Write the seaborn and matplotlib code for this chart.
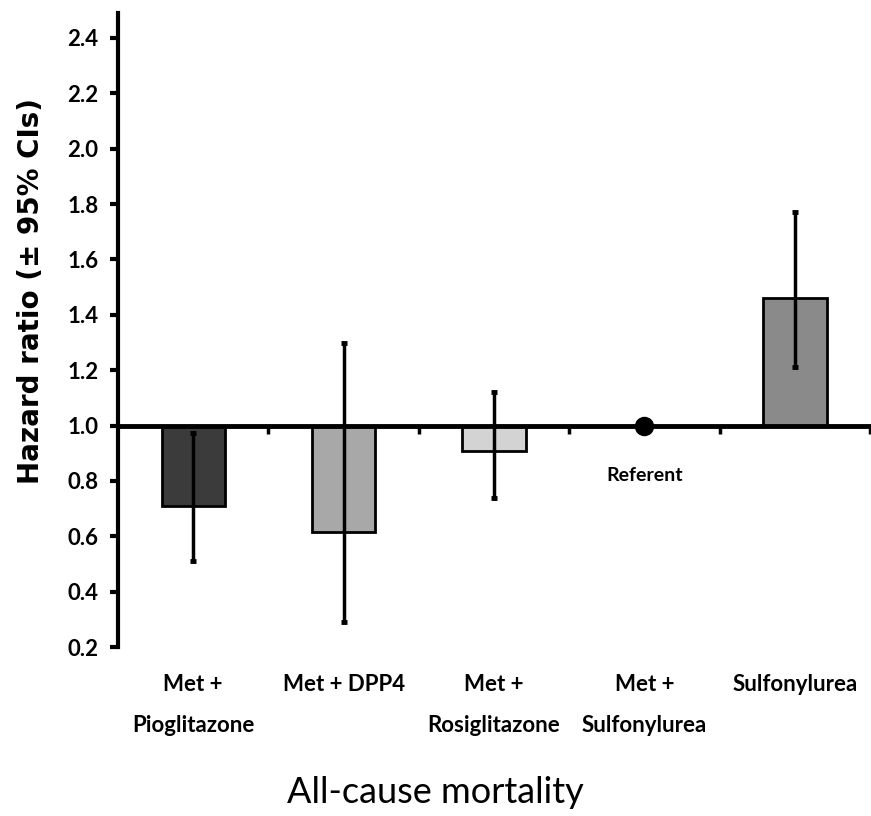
import numpy as np
import pandas as pd
import matplotlib
matplotlib.use('Agg')
import matplotlib.pyplot as plt
import matplotlib.transforms as mtransforms
import seaborn as sns

# data
categories = ['Met +\nPioglitazone', 'Met + DPP4', 'Met +\nRosiglitazone', 'Met +\nSulfonylurea', 'Sulfonylurea']
hazard_ratio = [0.71, 0.615, 0.91, 1.00, 1.46]
ci_low = [0.51, 0.29, 0.74, 1.00, 1.21]
ci_high = [0.975, 1.30, 1.12, 1.00, 1.77]
bar_colors = ['#3b3b3b', '#a8a8a8', '#d3d3d3', '#ffffff', '#8a8a8a']
referent = 'Met +\nSulfonylurea'
y_ticks = [0.2, 0.4, 0.6, 0.8, 1.0, 1.2, 1.4, 1.6, 1.8, 2.0, 2.2, 2.4]

sns.set_style('white')
plt.rcParams['font.family'] = ['Lato', 'DejaVu Sans']
for k in ['text.color', 'axes.labelcolor', 'xtick.color', 'ytick.color', 'axes.edgecolor']:
    plt.rcParams[k] = 'black'

df = pd.DataFrame({'group': categories, 'hr': hazard_ratio})
df['delta'] = df['hr'] - 1.0

fig, ax = plt.subplots(figsize=(8.71, 8.16), dpi=100)
fig.subplots_adjust(left=0.1355, right=0.999, top=0.984, bottom=0.207)

sns.barplot(data=df, x='group', y='delta', order=categories, hue='group',
            palette=bar_colors, legend=False, width=0.42, bottom=1.0,
            edgecolor='black', linewidth=2, errorbar=None, ax=ax)

# confidence intervals, skip the referent
x = np.arange(len(categories))
hr = np.array(hazard_ratio)
lo = hr - np.array(ci_low)
hi = np.array(ci_high) - hr
mask = np.array([c != referent for c in categories])
ax.errorbar(x[mask], hr[mask], yerr=[lo[mask], hi[mask]], fmt='none',
            ecolor='black', elinewidth=2.5, capsize=2, capthick=3.5, zorder=4)

# referent dot
ref_i = categories.index(referent)
ax.plot(ref_i, 1.0, 'o', color='black', markersize=13, zorder=5)
ax.text(ref_i, 0.82, 'Referent', ha='center', va='center', fontsize=14, fontweight='bold')

# axis at 1.0 with ticks between groups
ax.spines['bottom'].set_position(('data', 1.0))
ax.spines['bottom'].set_linewidth(3.5)
ax.spines['bottom'].set_zorder(3)
ax.spines['left'].set_linewidth(3)
ax.spines['top'].set_visible(False)
ax.spines['right'].set_visible(False)
ax.set_xticks(np.arange(len(categories)) + 0.5)
ax.set_xticklabels([])
ax.tick_params(axis='x', direction='out', length=6, width=2.5, bottom=True)
ax.set_xlim(-0.5, 4.5)

ax.set_ylim(0.2, 2.49)
ax.set_yticks(y_ticks)
ax.set_yticklabels([f'{v:.1f}' for v in y_ticks], fontsize=16, fontweight='bold')
ax.tick_params(axis='y', direction='out', length=6, width=3, left=True, pad=8)

ax.set_xlabel('')
ax.set_ylabel('Hazard ratio (± 95% CIs)', fontsize=20, fontweight='bold',
              family=['DejaVu Sans'])
ax.yaxis.set_label_coords(-0.097, 0.561)

# category labels below the plot
trans = mtransforms.blended_transform_factory(ax.transData, fig.transFigure)
for i, c in enumerate(categories):
    ax.text(i, 0.174, c, transform=trans, ha='center', va='top', fontsize=16,
            fontweight='bold', linespacing=2.2)

fig.text(0.5, 0.008, 'All-cause mortality', ha='center', va='bottom', fontsize=26)

fig.savefig('out.png', dpi=100)
